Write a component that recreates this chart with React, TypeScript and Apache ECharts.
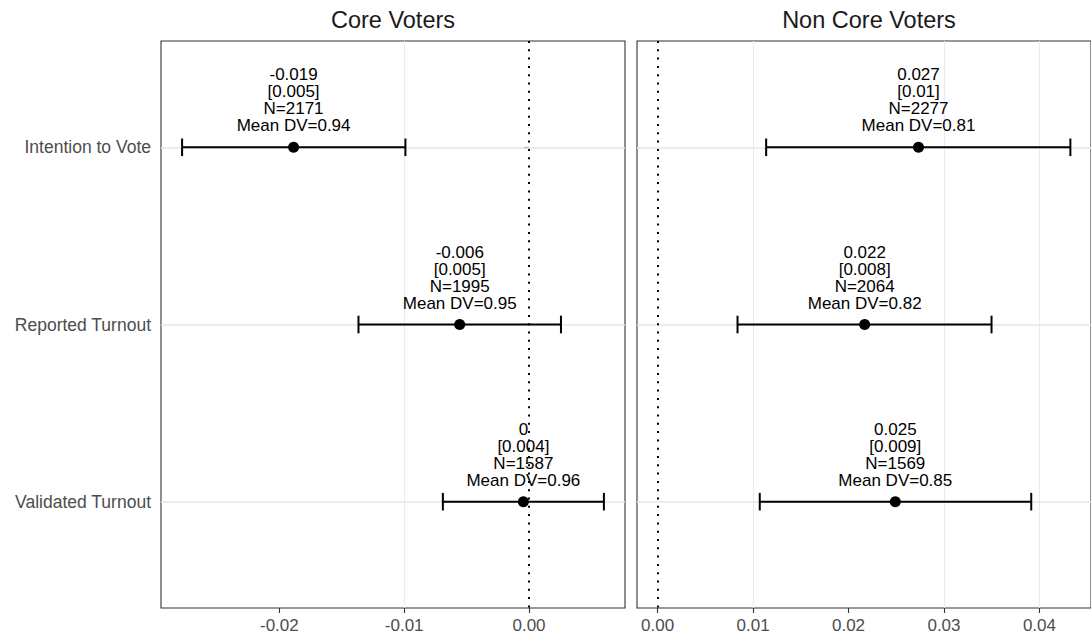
import React, { useEffect, useRef } from "react";
import * as echarts from "echarts";

const categories = ["Intention to Vote", "Reported Turnout", "Validated Turnout"];
const panelTitles = ["Core Voters", "Non Core Voters"];

const coreEst = [-0.01886, -0.00555, -0.00045];
const coreLow = [-0.02779, -0.01366, -0.0069];
const coreHigh = [-0.0099, 0.00256, 0.006];
const coreCoef = ["-0.019", "-0.006", "0"];
const coreSe = ["0.005", "0.005", "0.004"];
const coreN = [2171, 1995, 1587];
const coreMean = ["0.94", "0.95", "0.96"];

const nonEst = [0.02733, 0.02169, 0.0249];
const nonLow = [0.01137, 0.00837, 0.0107];
const nonHigh = [0.04324, 0.03498, 0.03914];
const nonCoef = ["0.027", "0.022", "0.025"];
const nonSe = ["0.01", "0.008", "0.009"];
const nonN = [2277, 2064, 1569];
const nonMean = ["0.81", "0.82", "0.85"];

const coreTicks = [-0.02, -0.01, 0];
const coreMinor = [-0.025, -0.015, -0.005, 0.005];
const nonTicks = [0, 0.01, 0.02, 0.03, 0.04];
const nonMinor = [0.005, 0.015, 0.025, 0.035];

const coreRange = [-0.02948, 0.00769];
const nonRange = [-0.00216, 0.0454];

const FONT = "'Liberation Sans', Arial, Helvetica, sans-serif";

function makeRender(est: number[], lo: number[], hi: number[], coef: string[], se: string[], n: number[], mean: string[]) {
  return (params: any, api: any) => {
    const i = params.dataIndex;
    const y = i + 1;
    const a = api.coord([lo[i], y]);
    const b = api.coord([hi[i], y]);
    const p = api.coord([est[i], y]);
    const cap = 8.8;
    const ls = { stroke: "#000", lineWidth: 2 };
    return {
      type: "group",
      children: [
        { type: "line", shape: { x1: a[0], y1: a[1], x2: b[0], y2: b[1] }, style: ls },
        { type: "line", shape: { x1: a[0], y1: a[1] - cap, x2: a[0], y2: a[1] + cap }, style: ls },
        { type: "line", shape: { x1: b[0], y1: b[1] - cap, x2: b[0], y2: b[1] + cap }, style: ls },
        { type: "circle", shape: { cx: p[0], cy: p[1], r: 5.5 }, style: { fill: "#000" } },
        {
          type: "text",
          x: p[0],
          y: p[1] - 13,
          style: {
            text: `${coef[i]}\n[${se[i]}]\nN=${n[i]}\nMean DV=${mean[i]}`,
            align: "center",
            verticalAlign: "bottom",
            fontSize: 17,
            fontFamily: FONT,
            lineHeight: 17,
            fill: "#000",
          },
        },
      ],
    };
  };
}

function gridSeries(idx: number, minor: number[]) {
  return {
    type: "line",
    xAxisIndex: idx,
    yAxisIndex: idx,
    data: [],
    silent: true,
    markLine: {
      silent: true,
      symbol: "none",
      z: 1,
      animation: false,
      label: { show: false },
      data: [
        ...minor.map((v) => ({ xAxis: v, lineStyle: { color: "#ebebeb", width: 1, type: "solid" } })),
        ...categories.map((_, k) => ({ yAxis: k + 1, lineStyle: { color: "#e6e6e6", width: 1.6, type: "solid" } })),
      ],
    },
  };
}

function vlineSeries(idx: number) {
  return {
    type: "line",
    xAxisIndex: idx,
    yAxisIndex: idx,
    data: [],
    silent: true,
    z: 10,
    markLine: {
      silent: true,
      symbol: "none",
      z: 10,
      animation: false,
      label: { show: false },
      lineStyle: { color: "#000", width: 2, type: [2, 6.3], cap: "butt" },
      data: [{ xAxis: 0 }],
    },
  };
}

export default function App() {
  const ref = useRef<HTMLDivElement>(null);
  useEffect(() => {
    if (!ref.current) return;
    const chart = echarts.init(ref.current, null, { renderer: "svg" });
    const xAxisBase = (idx: number, range: number[], ticks: number[]) => ({
      type: "value",
      gridIndex: idx,
      min: range[0],
      max: range[1],
      axisLine: { show: false },
      splitLine: { show: false },
      axisTick: { show: true, customValues: ticks, length: 5, lineStyle: { color: "#333", width: 1.1 } },
      axisLabel: {
        customValues: ticks,
        formatter: (v: number) => v.toFixed(2),
        color: "#4d4d4d",
        fontSize: 17,
        fontFamily: FONT,
        margin: 9,
      },
    });
    const yAxisBase = (idx: number, showLabels: boolean) => ({
      type: "value",
      gridIndex: idx,
      min: 0.4,
      max: 3.6,
      inverse: true,
      axisLine: { show: false },
      splitLine: { show: false },
      axisTick: { show: showLabels, customValues: [1, 2, 3], length: 5, lineStyle: { color: "#333", width: 1.1 } },
      axisLabel: {
        show: showLabels,
        customValues: [1, 2, 3],
        formatter: (v: number) => categories[Math.round(v) - 1] ?? "",
        color: "#4d4d4d",
        fontSize: 17.5,
        fontFamily: FONT,
        margin: 10,
      },
    });
    chart.setOption({
      animation: false,
      grid: [
        { left: 161, top: 41, width: 464, height: 567, show: true, borderColor: "#333", borderWidth: 1.1, backgroundColor: "#fff", containLabel: false },
        { left: 637, top: 41, width: 464, height: 567, show: true, borderColor: "#333", borderWidth: 1.1, backgroundColor: "#fff", containLabel: false },
      ],
      xAxis: [xAxisBase(0, coreRange, coreTicks), xAxisBase(1, nonRange, nonTicks)],
      yAxis: [yAxisBase(0, true), yAxisBase(1, false)],
      graphic: [
        { type: "text", x: 393, y: 20, style: { text: panelTitles[0], align: "center", verticalAlign: "middle", fontSize: 23.5, fontFamily: FONT, fill: "#1a1a1a" } },
        { type: "text", x: 869, y: 20, style: { text: panelTitles[1], align: "center", verticalAlign: "middle", fontSize: 23.5, fontFamily: FONT, fill: "#1a1a1a" } },
      ],
      series: [
        gridSeries(0, coreMinor),
        gridSeries(1, nonMinor),
        {
          type: "custom",
          xAxisIndex: 0,
          yAxisIndex: 0,
          z: 5,
          data: categories.map((_, i) => [i + 1, coreLow[i], coreHigh[i], coreEst[i]]),
          encode: { x: [1, 2, 3], y: 0 },
          renderItem: makeRender(coreEst, coreLow, coreHigh, coreCoef, coreSe, coreN, coreMean),
        },
        {
          type: "custom",
          xAxisIndex: 1,
          yAxisIndex: 1,
          z: 5,
          data: categories.map((_, i) => [i + 1, nonLow[i], nonHigh[i], nonEst[i]]),
          encode: { x: [1, 2, 3], y: 0 },
          renderItem: makeRender(nonEst, nonLow, nonHigh, nonCoef, nonSe, nonN, nonMean),
        },
        vlineSeries(0),
        vlineSeries(1),
      ],
    });
    return () => chart.dispose();
  }, []);
  return <div ref={ref} style={{ position: "fixed", left: 0, top: 0, width: 1091, height: 635, background: "#fff" }} />;
}
